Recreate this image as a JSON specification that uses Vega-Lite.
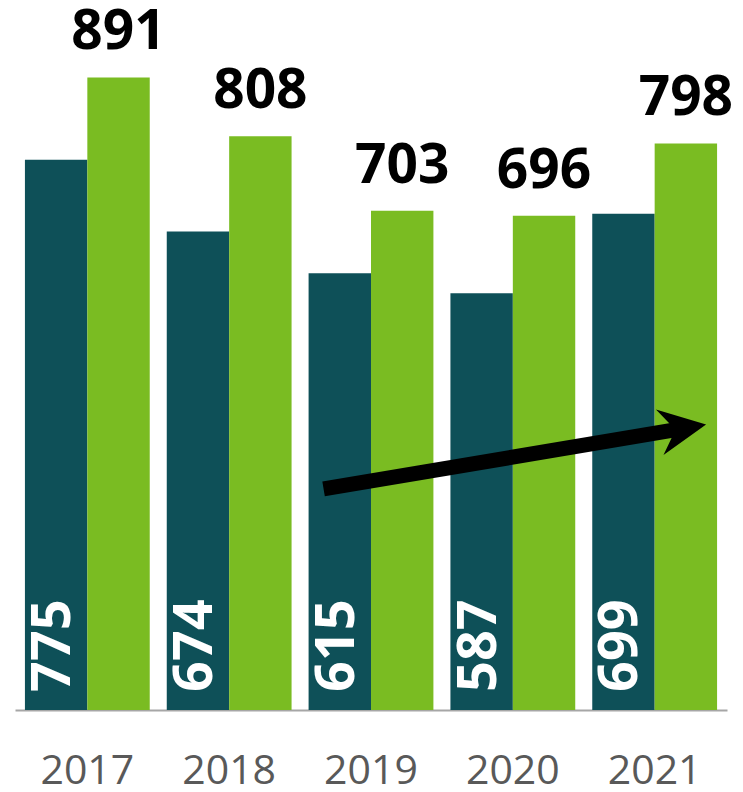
{
  "$schema": "https://vega.github.io/schema/vega-lite/v6.json",
  "width": 712,
  "height": 710,
  "autosize": "none",
  "padding": {"left": 15, "right": 16, "top": 0, "bottom": 82},
  "background": "white",
  "config": {"view": {"stroke": null}},
  "datasets": {
    "bars": [
      {"year": "2017", "series": "A", "value": 775},
      {"year": "2017", "series": "B", "value": 891},
      {"year": "2018", "series": "A", "value": 674},
      {"year": "2018", "series": "B", "value": 808},
      {"year": "2019", "series": "A", "value": 615},
      {"year": "2019", "series": "B", "value": 703},
      {"year": "2020", "series": "A", "value": 587},
      {"year": "2020", "series": "B", "value": 696},
      {"year": "2021", "series": "A", "value": 699},
      {"year": "2021", "series": "B", "value": 798}
    ],
    "arrow": [
      {"from": "2019", "to": "2021", "v1": 311.4, "v2": 395.7, "tip": 402}
    ]
  },
  "encoding": {
    "x": {
      "field": "year",
      "type": "nominal",
      "scale": {"paddingInner": 0.12, "paddingOuter": 0.07},
      "axis": {
        "title": null,
        "labelAngle": 0,
        "ticks": false,
        "domainColor": "#a6a6a6",
        "domainWidth": 2,
        "labelFont": "Open Sans",
        "labelFontSize": 41,
        "labelColor": "#595959",
        "labelPadding": 41
      }
    }
  },
  "layer": [
    {
      "data": {"name": "bars"},
      "mark": {"type": "bar"},
      "encoding": {
        "xOffset": {"field": "series", "type": "nominal", "scale": {"paddingInner": 0, "paddingOuter": 0}},
        "y": {"field": "value", "type": "quantitative", "scale": {"domain": [0, 998]}, "axis": null},
        "color": {
          "field": "series",
          "type": "nominal",
          "scale": {"domain": ["A", "B"], "range": ["#0e5058", "#7abc22"]},
          "legend": null
        }
      }
    },
    {
      "data": {"name": "bars"},
      "transform": [{"filter": "datum.series === 'B'"}],
      "mark": {"type": "text", "baseline": "alphabetic", "dy": -28, "font": "Open Sans", "fontSize": 55, "fontWeight": "bold", "color": "#000000"},
      "encoding": {
        "xOffset": {"field": "series", "type": "nominal", "scale": {"domain": ["A", "B"]}},
        "y": {"field": "value", "type": "quantitative"},
        "text": {"field": "value", "type": "quantitative"}
      }
    },
    {
      "data": {"name": "bars"},
      "transform": [{"filter": "datum.series === 'A'"}],
      "mark": {"type": "text", "angle": 270, "align": "left", "baseline": "middle", "dx": 18, "dy": -2, "font": "Open Sans", "fontSize": 54, "fontWeight": "bold", "color": "#ffffff"},
      "encoding": {
        "xOffset": {"field": "series", "type": "nominal", "scale": {"domain": ["A", "B"]}},
        "y": {"datum": 0, "type": "quantitative"},
        "text": {"field": "value", "type": "quantitative"}
      }
    },
    {
      "data": {"name": "arrow"},
      "mark": {"type": "rule", "color": "#000000", "strokeWidth": 15, "strokeCap": "butt"},
      "encoding": {
        "x": {"field": "from", "type": "nominal", "bandPosition": 0.12},
        "x2": {"field": "to", "bandPosition": 0.696},
        "y": {"field": "v1", "type": "quantitative"},
        "y2": {"field": "v2"}
      }
    },
    {
      "data": {"name": "arrow"},
      "mark": {"type": "point", "shape": "M0,0L-47,-23L-31,0L-47,23Z", "size": 4, "filled": true, "color": "#000000", "opacity": 1, "strokeWidth": 0, "angle": 350.54},
      "encoding": {
        "x": {"field": "to", "type": "nominal", "bandPosition": 0.912},
        "y": {"field": "tip", "type": "quantitative"}
      }
    }
  ]
}
